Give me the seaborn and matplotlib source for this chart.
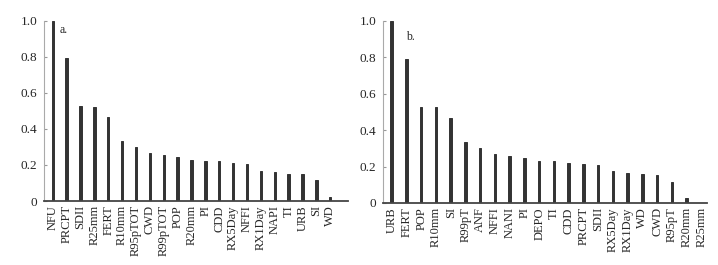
import pandas as pd
import matplotlib
matplotlib.use('Agg')
import matplotlib.pyplot as plt
import seaborn as sns

labels_a = ['NFU', 'PRCPT', 'SDII', 'R25mm', 'FERT', 'R10mm', 'R95pTOT', 'CWD',
            'R99pTOT', 'POP', 'R20mm', 'PI', 'CDD', 'RX5Day', 'NFFI', 'RX1Day',
            'NAPI', 'TI', 'URB', 'SI', 'WD']
values_a = [1.0, 0.793, 0.528, 0.522, 0.467, 0.331, 0.302, 0.267, 0.254, 0.244,
            0.230, 0.222, 0.220, 0.211, 0.206, 0.169, 0.161, 0.152, 0.150, 0.115, 0.024]

labels_b = ['URB', 'FERT', 'POP', 'R10mm', 'SI', 'R99pT', 'ANF', 'NFFI', 'NANI', 'PI',
            'DEPO', 'TI', 'CDD', 'PRCPT', 'SDII', 'RX5Day', 'RX1Day', 'WD', 'CWD',
            'R95pT', 'R20mm', 'R25mm']
values_b = [1.0, 0.789, 0.530, 0.525, 0.468, 0.336, 0.301, 0.268, 0.259, 0.246,
            0.233, 0.228, 0.222, 0.215, 0.209, 0.174, 0.167, 0.158, 0.154,
            0.117, 0.028, 0.0]

sns.set_style('white')
plt.rcParams['font.family'] = ['Liberation Serif', 'DejaVu Serif']
plt.rcParams['font.size'] = 8.5

BAR = '#333333'

fig = plt.figure(figsize=(7.18, 2.65), dpi=100)
ax_a = fig.add_axes([0.0613, 0.2415, 0.4237, 0.6793])
ax_b = fig.add_axes([0.5334, 0.234, 0.4513, 0.6868])


def draw_panel(ax, labels, values, tag, tag_xy, xlim):
    df = pd.DataFrame({'var': labels, 'val': values})
    sns.barplot(data=df, x='var', y='val', order=labels, color=BAR,
                saturation=1, width=0.17, edgecolor=BAR, linewidth=0.7, ax=ax)
    ax.set_xlim(*xlim)
    ax.set_ylim(0, 1.0)
    ax.set_yticks([0, 0.2, 0.4, 0.6, 0.8, 1.0])
    ax.set_yticklabels(['0', '0.2', '0.4', '0.6', '0.8', '1.0'])
    ax.set_xlabel('')
    ax.set_ylabel('')
    ax.tick_params(axis='x', rotation=90, length=0, pad=3, labelsize=9)
    ax.tick_params(axis='y', direction='in', length=2.5, width=0.8,
                   color='#999999', pad=5, labelsize=9.5, left=True)
    for s in ('top', 'right'):
        ax.spines[s].set_visible(False)
    ax.spines['left'].set_color('#aaaaaa')
    ax.spines['left'].set_linewidth(0.8)
    ax.spines['bottom'].set_color('#444444')
    ax.spines['bottom'].set_linewidth(1.3)
    ax.text(tag_xy[0], tag_xy[1], tag, transform=ax.transAxes, fontsize=8.5,
            va='top', ha='left')


draw_panel(ax_a, labels_a, values_a, 'a.', (0.052, 0.985), (-0.63, 21.3))
draw_panel(ax_b, labels_b, values_b, 'b.', (0.07, 0.945), (-0.59, 21.38))

fig.savefig('out.png', dpi=100)
